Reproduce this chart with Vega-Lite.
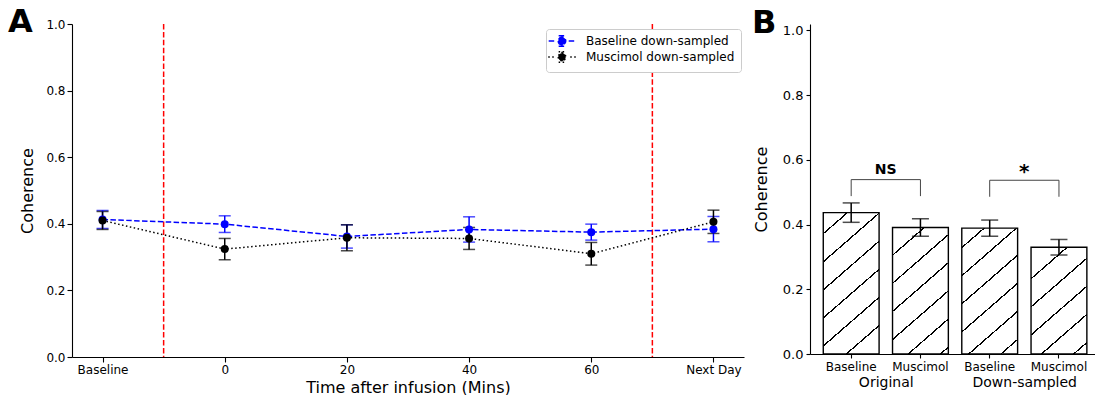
{
  "$schema": "https://vega.github.io/schema/vega-lite/v6.json",
  "padding": {"left": 8, "top": 6, "right": 0, "bottom": 0},
  "spacing": 8,
  "config": {
    "view": {"stroke": null},
    "font": "DejaVu Sans",
    "axis": {"domainColor": "black", "tickColor": "black", "labelColor": "black", "titleColor": "black", "grid": false, "labelFont": "DejaVu Sans", "titleFont": "DejaVu Sans", "titleFontWeight": "normal", "domainWidth": 1.1, "tickWidth": 1.1}
  },
  "datasets": {
    "ts": [
      {"series": "Baseline down-sampled", "time": -20, "mean": 0.413, "err": 0.027},
      {"series": "Baseline down-sampled", "time": 0, "mean": 0.399, "err": 0.025},
      {"series": "Baseline down-sampled", "time": 20, "mean": 0.362, "err": 0.035},
      {"series": "Baseline down-sampled", "time": 40, "mean": 0.383, "err": 0.038},
      {"series": "Baseline down-sampled", "time": 60, "mean": 0.375, "err": 0.024},
      {"series": "Baseline down-sampled", "time": 80, "mean": 0.384, "err": 0.038},
      {"series": "Muscimol down-sampled", "time": -20, "mean": 0.410, "err": 0.027},
      {"series": "Muscimol down-sampled", "time": 0, "mean": 0.324, "err": 0.032},
      {"series": "Muscimol down-sampled", "time": 20, "mean": 0.358, "err": 0.039},
      {"series": "Muscimol down-sampled", "time": 40, "mean": 0.356, "err": 0.033},
      {"series": "Muscimol down-sampled", "time": 60, "mean": 0.310, "err": 0.034},
      {"series": "Muscimol down-sampled", "time": 80, "mean": 0.406, "err": 0.035}
    ],
    "vlines": [{"time": -10}, {"time": 70}],
    "bars": [
      {"bar": "Original Baseline", "mean": 0.437, "err": 0.030},
      {"bar": "Original Muscimol", "mean": 0.391, "err": 0.027},
      {"bar": "Down-sampled Baseline", "mean": 0.389, "err": 0.025},
      {"bar": "Down-sampled Muscimol", "mean": 0.330, "err": 0.024}
    ],
    "sig": [
      {"group": "Original", "label": "NS", "x1": "Original Baseline", "x2": "Original Muscimol", "top": 0.539, "low": 0.488, "ty": 0.557},
      {"group": "Down-sampled", "label": "*", "x1": "Down-sampled Baseline", "x2": "Down-sampled Muscimol", "top": 0.537, "low": 0.486, "ty": 0.543}
    ]
  },
  "hconcat": [
    {
      "width": 672,
      "height": 333,
      "title": {"text": "A", "anchor": "start", "frame": "group", "fontSize": 32, "fontWeight": "bold", "font": "DejaVu Sans", "color": "black", "dx": -64, "offset": -46, "baseline": "alphabetic"},
      "layer": [
        {
          "data": {"name": "vlines"},
          "mark": {"type": "rule", "color": "#ff0000", "strokeDash": [5.5, 2.4], "strokeWidth": 1.5},
          "encoding": {
            "x": {"field": "time", "type": "quantitative", "scale": {"domain": [-25, 85], "nice": false, "zero": false}}
          }
        },
        {
          "data": {"name": "ts"},
          "encoding": {
            "x": {"field": "time", "type": "quantitative", "scale": {"domain": [-25, 85], "nice": false, "zero": false},
              "axis": {"title": "Time after infusion (Mins)", "values": [-20, 0, 20, 40, 60, 80], "labelExpr": "datum.value == -20 ? 'Baseline' : datum.value == 80 ? 'Next Day' : datum.label", "labelFontSize": 12, "tickSize": 5, "labelPadding": 2, "titleFontSize": 16, "titlePadding": 4, "labelFlush": false, "labelOverlap": false}},
            "y": {"field": "mean", "type": "quantitative", "title": "Coherence", "scale": {"domain": [0, 1], "nice": false},
              "axis": {"title": "Coherence", "values": [0, 0.2, 0.4, 0.6, 0.8, 1.0], "format": ".1f", "labelFontSize": 12, "tickSize": 5, "labelPadding": 2, "titleFontSize": 16, "titlePadding": 10}},
            "color": {"field": "series", "type": "nominal",
              "scale": {"domain": ["Baseline down-sampled", "Muscimol down-sampled"], "range": ["#0000ff", "#000000"]},
              "legend": {"title": null, "orient": "none", "legendX": 474, "legendY": 5, "padding": 6, "fillColor": "white", "strokeColor": "#cccccc", "cornerRadius": 3, "labelFontSize": 12, "labelFont": "DejaVu Sans", "labelColor": "black", "symbolSize": 100, "symbolOffset": 4, "labelOffset": 18, "rowPadding": -2, "symbolStrokeWidth": 1.5,
                "encode": {"symbols": {"update": {
                  "shape": {"signal": "datum.value === 'Baseline down-sampled' ? 'M-2.66,0H-1.34M1.34,0H2.66M0,-1.07V1.07M-0.67,-1.07H0.67M-0.67,1.07H0.67M-0.75,0A0.75,0.75,0,1,0,0.75,0A0.75,0.75,0,1,0,-0.75,0Z' : 'M-2.75,0H-2.45M-1.95,0H-1.65M1.65,0H1.95M2.45,0H2.75M0,-1.07V1.07M-0.67,-1.07H0.67M-0.67,1.07H0.67M-0.75,0A0.75,0.75,0,1,0,0.75,0A0.75,0.75,0,1,0,-0.75,0Z'"},
                  "fill": {"signal": "datum.value === 'Baseline down-sampled' ? '#0000ff' : '#000000'"},
                  "stroke": {"signal": "datum.value === 'Baseline down-sampled' ? '#0000ff' : '#000000'"},
                  "strokeDash": {"value": []},
                  "strokeWidth": {"value": 1.5},
                  "opacity": {"value": 1},
                  "fillOpacity": {"value": 1}
                }}}}}
          },
          "layer": [
            {"mark": {"type": "errorbar", "size": 12, "thickness": 1.5, "ticks": {"size": 12, "thickness": 1.5}}, "encoding": {"yError": {"field": "err"}}},
            {"mark": {"type": "line", "strokeWidth": 1.5}, "encoding": {"strokeDash": {"field": "series", "type": "nominal", "scale": {"domain": ["Baseline down-sampled", "Muscimol down-sampled"], "range": [[5.5, 2.4], [1.5, 2.5]]}, "legend": null}}},
            {"mark": {"type": "point", "filled": true, "size": 64, "opacity": 1, "shape": "circle"}}
          ]
        }
      ]
    },
    {
      "width": 285,
      "height": 330,
      "title": {"text": "B", "anchor": "start", "frame": "group", "fontSize": 32, "fontWeight": "bold", "font": "DejaVu Sans", "color": "black", "dx": -58, "offset": -41, "baseline": "alphabetic"},
      "layer": [
        {
          "data": {"name": "bars"},
          "layer": [
            {
              "mark": {"type": "bar", "stroke": "black", "strokeWidth": 1.4},
              "encoding": {
                "x": {"field": "bar", "type": "nominal",
                  "scale": {"domain": ["Original Baseline", "Original Muscimol", "Down-sampled Baseline", "Down-sampled Muscimol"], "paddingInner": 0.194, "paddingOuter": 0.1545, "align": 0.62},
                  "axis": {"title": null, "orient": "bottom", "labelExpr": "substring(datum.label, indexof(datum.label, ' ') + 1)", "labelAngle": 0, "labelFontSize": 12, "tickSize": 4, "labelPadding": 3, "labelOverlap": false}},
                "y": {"field": "mean", "type": "quantitative", "title": "Coherence", "scale": {"domain": [0, 1.02], "nice": false},
                  "axis": {"title": "Coherence", "values": [0, 0.2, 0.4, 0.6, 0.8, 1.0], "format": ".1f", "labelFontSize": 13, "tickSize": 4, "labelPadding": 3, "titleFontSize": 16, "titlePadding": 13}},
                "fill": {
                  "condition": [
                    {"test": "datum.bar === 'Original Baseline'", "value": {"gradient": "linear", "x1": 0, "y1": 0, "x2": 0.4134, "y2": 1.2018, "stops": [
                      {"offset": 0, "color": "white"},
                      {"offset": 0.1063, "color": "white"}, {"offset": 0.1063, "color": "black"}, {"offset": 0.1153, "color": "black"}, {"offset": 0.1153, "color": "white"},
                      {"offset": 0.2541, "color": "white"}, {"offset": 0.2541, "color": "black"}, {"offset": 0.2631, "color": "black"}, {"offset": 0.2631, "color": "white"},
                      {"offset": 0.4018, "color": "white"}, {"offset": 0.4018, "color": "black"}, {"offset": 0.4108, "color": "black"}, {"offset": 0.4108, "color": "white"},
                      {"offset": 0.5496, "color": "white"}, {"offset": 0.5496, "color": "black"}, {"offset": 0.5586, "color": "black"}, {"offset": 0.5586, "color": "white"},
                      {"offset": 0.6973, "color": "white"}, {"offset": 0.6973, "color": "black"}, {"offset": 0.7063, "color": "black"}, {"offset": 0.7063, "color": "white"},
                      {"offset": 0.8451, "color": "white"}, {"offset": 0.8451, "color": "black"}, {"offset": 0.8541, "color": "black"}, {"offset": 0.8541, "color": "white"},
                      {"offset": 1, "color": "white"}]}},
                    {"test": "datum.bar === 'Original Muscimol'", "value": {"gradient": "linear", "x1": 0, "y1": 0, "x2": 0.4643, "y2": 1.2062, "stops": [
                      {"offset": 0, "color": "white"},
                      {"offset": 0.1533, "color": "white"}, {"offset": 0.1533, "color": "black"}, {"offset": 0.1631, "color": "black"}, {"offset": 0.1631, "color": "white"},
                      {"offset": 0.3137, "color": "white"}, {"offset": 0.3137, "color": "black"}, {"offset": 0.3235, "color": "black"}, {"offset": 0.3235, "color": "white"},
                      {"offset": 0.4742, "color": "white"}, {"offset": 0.4742, "color": "black"}, {"offset": 0.4840, "color": "black"}, {"offset": 0.4840, "color": "white"},
                      {"offset": 0.6346, "color": "white"}, {"offset": 0.6346, "color": "black"}, {"offset": 0.6444, "color": "black"}, {"offset": 0.6444, "color": "white"},
                      {"offset": 0.7951, "color": "white"}, {"offset": 0.7951, "color": "black"}, {"offset": 0.8049, "color": "black"}, {"offset": 0.8049, "color": "white"},
                      {"offset": 0.9556, "color": "white"}, {"offset": 0.9556, "color": "black"}, {"offset": 0.9654, "color": "black"}, {"offset": 0.9654, "color": "white"},
                      {"offset": 1, "color": "white"}]}},
                    {"test": "datum.bar === 'Down-sampled Baseline'", "value": {"gradient": "linear", "x1": 0, "y1": 0, "x2": 0.4666, "y2": 1.2063, "stops": [
                      {"offset": 0, "color": "white"},
                      {"offset": 0.1067, "color": "white"}, {"offset": 0.1067, "color": "black"}, {"offset": 0.1165, "color": "black"}, {"offset": 0.1165, "color": "white"},
                      {"offset": 0.2677, "color": "white"}, {"offset": 0.2677, "color": "black"}, {"offset": 0.2775, "color": "black"}, {"offset": 0.2775, "color": "white"},
                      {"offset": 0.4287, "color": "white"}, {"offset": 0.4287, "color": "black"}, {"offset": 0.4385, "color": "black"}, {"offset": 0.4385, "color": "white"},
                      {"offset": 0.5897, "color": "white"}, {"offset": 0.5897, "color": "black"}, {"offset": 0.5995, "color": "black"}, {"offset": 0.5995, "color": "white"},
                      {"offset": 0.7507, "color": "white"}, {"offset": 0.7507, "color": "black"}, {"offset": 0.7605, "color": "black"}, {"offset": 0.7605, "color": "white"},
                      {"offset": 0.9117, "color": "white"}, {"offset": 0.9117, "color": "black"}, {"offset": 0.9215, "color": "black"}, {"offset": 0.9215, "color": "white"},
                      {"offset": 1, "color": "white"}]}}
                  ],
                  "value": {"gradient": "linear", "x1": 0, "y1": 0, "x2": 0.5494, "y2": 1.2054, "stops": [
                    {"offset": 0, "color": "white"},
                    {"offset": 0.1972, "color": "white"}, {"offset": 0.1972, "color": "black"}, {"offset": 0.2082, "color": "black"}, {"offset": 0.2082, "color": "white"},
                    {"offset": 0.3780, "color": "white"}, {"offset": 0.3780, "color": "black"}, {"offset": 0.3890, "color": "black"}, {"offset": 0.3890, "color": "white"},
                    {"offset": 0.5587, "color": "white"}, {"offset": 0.5587, "color": "black"}, {"offset": 0.5697, "color": "black"}, {"offset": 0.5697, "color": "white"},
                    {"offset": 0.7395, "color": "white"}, {"offset": 0.7395, "color": "black"}, {"offset": 0.7505, "color": "black"}, {"offset": 0.7505, "color": "white"},
                    {"offset": 0.9203, "color": "white"}, {"offset": 0.9203, "color": "black"}, {"offset": 0.9313, "color": "black"}, {"offset": 0.9313, "color": "white"},
                    {"offset": 1, "color": "white"}]}
                }
              }
            },
            {
              "mark": {"type": "errorbar", "size": 17, "thickness": 1.5, "ticks": {"size": 17, "thickness": 1.5, "color": "black"}, "rule": {"color": "black"}, "color": "black"},
              "encoding": {
                "x": {"field": "bar", "type": "nominal", "scale": {"domain": ["Original Baseline", "Original Muscimol", "Down-sampled Baseline", "Down-sampled Muscimol"], "paddingInner": 0.194, "paddingOuter": 0.1545, "align": 0.62}},
                "y": {"field": "mean", "type": "quantitative", "title": "Coherence", "scale": {"domain": [0, 1.02], "nice": false}},
                "yError": {"field": "err"}
              }
            },
            {
              "data": {"name": "sig"},
              "mark": {"type": "rule", "color": "#444444", "strokeWidth": 1},
              "encoding": {
                "x": {"field": "x1", "type": "nominal", "scale": {"domain": ["Original Baseline", "Original Muscimol", "Down-sampled Baseline", "Down-sampled Muscimol"], "paddingInner": 0.194, "paddingOuter": 0.1545, "align": 0.62}},
                "x2": {"field": "x2"},
                "y": {"field": "top", "type": "quantitative", "title": "Coherence", "scale": {"domain": [0, 1.02], "nice": false}}
              }
            },
            {
              "data": {"name": "sig"},
              "mark": {"type": "rule", "color": "#444444", "strokeWidth": 1},
              "encoding": {
                "x": {"field": "x1", "type": "nominal", "scale": {"domain": ["Original Baseline", "Original Muscimol", "Down-sampled Baseline", "Down-sampled Muscimol"], "paddingInner": 0.194, "paddingOuter": 0.1545, "align": 0.62}},
                "y": {"field": "low", "type": "quantitative", "title": "Coherence", "scale": {"domain": [0, 1.02], "nice": false}},
                "y2": {"field": "top"}
              }
            },
            {
              "data": {"name": "sig"},
              "mark": {"type": "rule", "color": "#444444", "strokeWidth": 1},
              "encoding": {
                "x": {"field": "x2", "type": "nominal", "scale": {"domain": ["Original Baseline", "Original Muscimol", "Down-sampled Baseline", "Down-sampled Muscimol"], "paddingInner": 0.194, "paddingOuter": 0.1545, "align": 0.62}},
                "y": {"field": "low", "type": "quantitative", "title": "Coherence", "scale": {"domain": [0, 1.02], "nice": false}},
                "y2": {"field": "top"}
              }
            }
          ]
        },
        {
          "data": {"name": "sig"},
          "mark": {"type": "text", "fontWeight": "bold", "baseline": "alphabetic", "align": "center", "color": "black", "font": "DejaVu Sans"},
          "encoding": {
            "x": {"field": "group", "type": "nominal",
              "scale": {"type": "point", "domain": ["Original", "Down-sampled"], "padding": 0.529, "align": 0.517},
              "axis": {"title": null, "orient": "bottom", "domain": false, "ticks": false, "tickSize": 0, "labelPadding": 21, "labelFontSize": 14, "labelAngle": 0, "labelOverlap": false}},
            "y": {"field": "ty", "type": "quantitative", "title": "Coherence", "scale": {"domain": [0, 1.02], "nice": false}},
            "text": {"field": "label"},
            "size": {"condition": {"test": "datum.label === '*'", "value": 20}, "value": 14}
          }
        }
      ],
      "resolve": {"scale": {"x": "independent"}, "axis": {"x": "independent"}}
    }
  ]
}
